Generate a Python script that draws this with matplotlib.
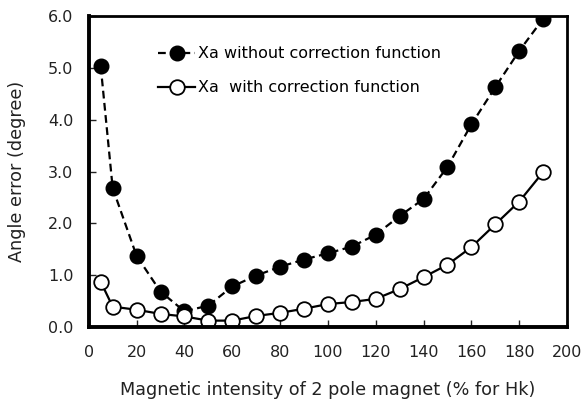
import matplotlib
matplotlib.use('Agg')
import matplotlib.pyplot as plt

intensity = [5, 10, 20, 30, 40, 50, 60, 70, 80, 90, 100, 110, 120, 130, 140, 150, 160, 170, 180, 190]
err_without = [5.03, 2.68, 1.37, 0.68, 0.30, 0.41, 0.78, 0.99, 1.16, 1.30, 1.42, 1.55, 1.78, 2.14, 2.47, 3.09, 3.91, 4.63, 5.33, 5.95]
err_with = [0.87, 0.39, 0.33, 0.25, 0.20, 0.12, 0.12, 0.21, 0.27, 0.35, 0.44, 0.48, 0.54, 0.73, 0.96, 1.20, 1.54, 1.98, 2.42, 2.99]
xticks = list(range(0, 201, 20))
yticks = [0.0, 1.0, 2.0, 3.0, 4.0, 5.0, 6.0]

fig = plt.figure(figsize=(5.84, 4.05), dpi=100)
ax = fig.add_axes([0.152, 0.193, 0.819, 0.767])

ax.plot(intensity, err_without, '--', color='black', lw=1.6, dashes=(3.5, 2),
        marker='o', ms=10.5, mfc='black', mec='black',
        label='Xa without correction function')
ax.plot(intensity, err_with, '-', color='black', lw=1.6,
        marker='o', ms=10.5, mfc='white', mec='black', mew=1.3,
        label='Xa  with correction function')

ax.set_xlim(0, 200)
ax.set_ylim(0, 6.0)
ax.set_xticks(xticks)
ax.set_yticks(yticks)
ax.set_yticklabels(['%.1f' % v for v in yticks])
ax.tick_params(direction='in', length=5, width=1, labelsize=11.5, colors='#222222')
ax.tick_params(axis='x', pad=13)
ax.tick_params(axis='y', pad=11)

ax.spines['left'].set_linewidth(2.8)
ax.spines['bottom'].set_linewidth(2.8)
ax.spines['top'].set_linewidth(2)
ax.spines['right'].set_linewidth(2)

ax.set_xlabel('Magnetic intensity of 2 pole magnet (% for Hk)', fontsize=12.7, labelpad=15, color='#222222')
ax.set_ylabel('Angle error (degree)', fontsize=12.7, labelpad=16, color='#222222')

ax.legend(loc='upper left', bbox_to_anchor=(0.115, 0.95), frameon=False, fontsize=11.5,
          handlelength=2.3, handletextpad=0.2, labelspacing=1.2)

fig.savefig('out.png', dpi=100)
